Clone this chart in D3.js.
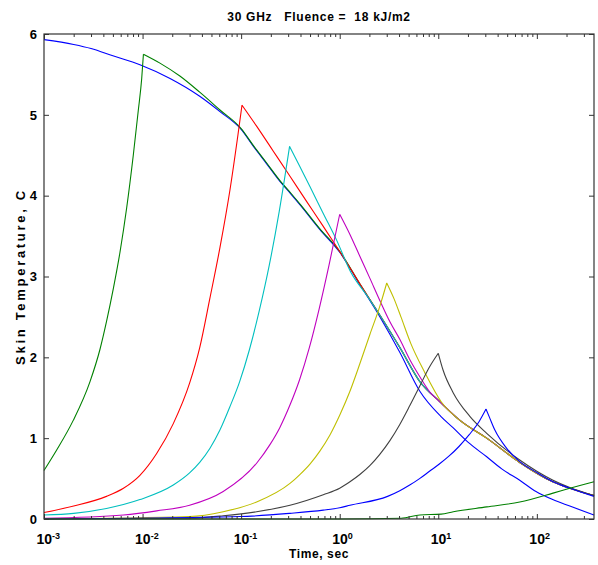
<!DOCTYPE html>
<html>
<head>
<meta charset="utf-8">
<script src="https://cdn.jsdelivr.net/npm/d3@7"></script>
<style>
  body { margin: 0; background: #fff; }
  svg text { font-family: "Liberation Sans", Arial, sans-serif; font-weight: bold; fill: #000; }
</style>
</head>
<body>
<svg width="598" height="565"></svg>
<script>
// skin temperature rise (C) vs time (s), one series per pulse length
const seriesNames = ['instant', '0.01 s', '0.1 s', '0.3 s', '1 s', '3 s', '10 s', '30 s', '300 s'];

const instantPulse = [[0.001,5.93],[0.002,5.87],[0.003,5.82],[0.005,5.73],[0.0094,5.62],[0.019,5.45],[0.038,5.23],[0.061,5.04],[0.1,4.82],[0.135,4.60],[0.18,4.40],[0.25,4.17],[0.32,4.02],[0.4,3.88],[0.63,3.58],[1.0,3.30],[1.6,2.90],[2.56,2.50],[4.08,2.06],[6.5,1.58],[10.6,1.27],[14.1,1.13],[20,0.95],[31,0.77],[44,0.62],[67,0.48],[98,0.34],[145,0.24],[216,0.16],[380,0.05]];
const pulse001 = [[0.001,0.60],[0.00134,0.85],[0.00198,1.22],[0.00293,1.70],[0.0037,2.10],[0.00432,2.45],[0.00505,2.85],[0.0059,3.30],[0.0069,3.85],[0.00805,4.50],[0.00904,5.05],[0.0098,5.45],[0.0102,5.75],[0.015,5.64],[0.0239,5.48],[0.038,5.28],[0.061,5.06],[0.1,4.83],[0.135,4.61],[0.18,4.41],[0.25,4.18],[0.32,4.03],[0.4,3.89],[0.63,3.59],[1.0,3.31],[1.6,2.91],[2.56,2.52],[4.08,2.12],[6.5,1.70],[10.4,1.45],[16.6,1.22],[31,1.00],[67,0.70],[145,0.46],[216,0.38],[380,0.29]];
const pulse01 = [[0.001,0.08],[0.002,0.16],[0.0043,0.28],[0.0064,0.38],[0.0094,0.54],[0.0139,0.81],[0.0205,1.18],[0.03,1.68],[0.038,2.12],[0.048,2.72],[0.061,3.36],[0.077,4.07],[0.093,4.76],[0.102,5.12],[0.1435,4.86],[0.212,4.55],[0.313,4.24],[0.461,3.93],[0.681,3.62],[0.83,3.46],[1.0,3.31],[1.6,2.91],[2.56,2.52],[4.08,2.12],[6.5,1.70],[10.4,1.45],[16.6,1.22],[31,1.00],[67,0.70],[145,0.46],[216,0.38],[380,0.29]];
const pulse03 = [[0.001,0.05],[0.002,0.07],[0.0043,0.13],[0.0094,0.24],[0.0205,0.42],[0.03,0.57],[0.038,0.70],[0.0483,0.875],[0.0609,1.10],[0.0767,1.385],[0.0966,1.70],[0.1217,2.10],[0.153,2.58],[0.193,3.14],[0.243,3.80],[0.31,4.61],[0.394,4.36],[0.5,4.11],[0.681,3.78],[0.93,3.45],[1.3,3.05],[1.9,2.76],[2.56,2.52],[4.08,2.12],[6.5,1.70],[10.4,1.45],[16.6,1.22],[31,1.00],[67,0.70],[145,0.46],[216,0.38],[380,0.29]];
const pulse1 = [[0.001,0.01],[0.0064,0.05],[0.0139,0.10],[0.03,0.17],[0.0658,0.34],[0.1435,0.69],[0.196,0.92],[0.2466,1.13],[0.3104,1.40],[0.3908,1.72],[0.492,2.12],[0.619,2.60],[0.779,3.14],[1.0,3.77],[1.27,3.52],[1.6,3.25],[2.02,2.98],[2.56,2.70],[3.23,2.44],[4.08,2.22],[5.15,1.97],[6.5,1.76],[8.22,1.57],[10.4,1.45],[16.6,1.22],[31,1.00],[67,0.70],[145,0.46],[216,0.38],[380,0.29]];
const pulse3 = [[0.001,0.0],[0.03,0.03],[0.0658,0.09],[0.1435,0.21],[0.313,0.44],[0.394,0.55],[0.499,0.68],[0.629,0.84],[0.796,1.04],[1.005,1.29],[1.27,1.58],[1.6,1.92],[2.02,2.28],[2.55,2.63],[3.0,2.92],[3.57,2.72],[4.18,2.50],[5.27,2.17],[7.24,1.82],[10.7,1.45],[16.6,1.22],[31,1.00],[67,0.70],[145,0.46],[216,0.38],[380,0.29]];
const pulse10 = [[0.001,0.0],[0.03,0.01],[0.0658,0.04],[0.1435,0.09],[0.313,0.17],[0.681,0.30],[1.0,0.38],[1.27,0.46],[1.6,0.55],[2.02,0.66],[2.55,0.80],[3.23,0.97],[4.07,1.17],[5.13,1.40],[6.46,1.64],[8.14,1.88],[10,2.05],[11.2,1.84],[14.2,1.56],[20.9,1.27],[31,1.06],[67,0.73],[146,0.48],[216,0.39],[380,0.29]];
const pulse30 = [[0.001,0.0],[0.0973,0.03],[0.313,0.07],[0.681,0.11],[1.0,0.14],[1.27,0.17],[3.06,0.28],[4.07,0.35],[5.13,0.42],[6.46,0.50],[8.14,0.59],[10.25,0.68],[12.9,0.78],[16.3,0.90],[20.5,1.04],[25.8,1.20],[30.5,1.36],[33,1.26],[37.5,1.10],[49,0.88],[67,0.71],[98,0.58],[146,0.46],[216,0.38],[380,0.28]];
const pulse300 = [[0.001,0.0],[1.0,0.0],[4.2,0.01],[6.5,0.05],[10.7,0.06],[14.2,0.09],[31,0.15],[67,0.21],[146,0.32],[216,0.38],[380,0.46]];

const xTicks = [1e-3, 1e-2, 1e-1, 1, 10, 100];
const xMinorTicks = [2e-3,3e-3,4e-3,5e-3,6e-3,7e-3,8e-3,9e-3,2e-2,3e-2,4e-2,5e-2,6e-2,7e-2,8e-2,9e-2,0.2,0.3,0.4,0.5,0.6,0.7,0.8,0.9,2,3,4,5,6,7,8,9,20,30,40,50,60,70,80,90,200,300];
const yTicks = [0, 1, 2, 3, 4, 5, 6];

const chartTitle = '30 GHz   Fluence =  18 kJ/m2';
const xAxisLabel = 'Time, sec';
const yAxisLabel = 'Skin Temperature, C';

// matlab default colour order
const colors = ['#0000ff', '#008000', '#ff0000', '#00bfbf', '#bf00bf', '#bfbf00', '#404040', '#0000ff', '#008000'];

const svg = d3.select('svg');
const width = +svg.attr('width');
const height = +svg.attr('height');

const render = series => {
    const margin = { top: 34, right: 4, bottom: 46, left: 44 };
    const innerWidth = width - margin.left - margin.right;
    const innerHeight = height - margin.top - margin.bottom;

    const xScale = d3.scaleLog()
        .domain([1e-3, 380])
        .range([0, innerWidth]);

    const yScale = d3.scaleLinear()
        .domain([0, 6])
        .range([innerHeight, 0]);

    const g = svg.append('g')
        .attr('transform', `translate(${margin.left}, ${margin.top})`);

    // curves, in plot order; rise and fall drawn separately so the peak stays sharp
    const line = d3.line()
        .x(d => xScale(d[0]))
        .y(d => yScale(d[1]))
        .curve(d3.curveMonotoneX);

    const pathFor = d => {
        const p = d3.maxIndex(d, v => v[1]);
        const rise = d.slice(0, p + 1);
        const fall = d.slice(p);
        return (rise.length > 1 ? line(rise) : '') + (fall.length > 1 ? line(fall) : '');
    };

    g.append('g').selectAll('path')
        .data(series)
        .join('path')
        .attr('d', pathFor)
        .attr('stroke', (d, i) => colors[i])
        .attr('stroke-width', 1.1)
        .attr('stroke-linejoin', 'miter')
        .attr('fill', 'none');

    // box
    g.append('rect')
        .attr('width', innerWidth)
        .attr('height', innerHeight)
        .attr('fill', 'none')
        .attr('stroke', '#333')
        .attr('stroke-width', 1.2);

    const styleAxis = sel => {
        sel.select('.domain').remove();
        sel.selectAll('line').attr('stroke', '#333');
    };

    // x axis, bottom + top
    const xAxisG = g.append('g')
        .attr('transform', `translate(0, ${innerHeight})`)
        .call(d3.axisBottom(xScale).tickValues(xTicks).tickSize(-5).tickSizeOuter(0).tickPadding(15));
    styleAxis(xAxisG);
    xAxisG.selectAll('text')
        .attr('font-size', 14)
        .attr('text-anchor', 'start')
        .attr('x', -8)
        .each(function(d) {
            const t = d3.select(this);
            t.text('10');
            t.append('tspan')
                .attr('dy', '-0.55em')
                .attr('font-size', 9)
                .text(Math.round(Math.log10(d)));
        });

    g.append('g')
        .attr('transform', `translate(0, ${innerHeight})`)
        .call(d3.axisBottom(xScale).tickValues(xMinorTicks).tickSize(-3).tickSizeOuter(0).tickFormat(''))
        .call(styleAxis);

    g.append('g')
        .call(d3.axisTop(xScale).tickValues(xTicks).tickSize(-5).tickSizeOuter(0).tickFormat(''))
        .call(styleAxis);
    g.append('g')
        .call(d3.axisTop(xScale).tickValues(xMinorTicks).tickSize(-3).tickSizeOuter(0).tickFormat(''))
        .call(styleAxis);

    // y axis, left + right
    const yAxisG = g.append('g')
        .call(d3.axisLeft(yScale).tickValues(yTicks).tickSize(-5).tickSizeOuter(0).tickPadding(7).tickFormat(d3.format('d')));
    styleAxis(yAxisG);
    yAxisG.selectAll('text').attr('font-size', 13);

    g.append('g')
        .attr('transform', `translate(${innerWidth}, 0)`)
        .call(d3.axisRight(yScale).tickValues(yTicks).tickSize(-5).tickSizeOuter(0).tickFormat(''))
        .call(styleAxis);

    // labels
    svg.append('text')
        .attr('x', margin.left + innerWidth / 2)
        .attr('y', 21)
        .attr('text-anchor', 'middle')
        .attr('font-size', 12)
        .attr('letter-spacing', 0.7)
        .style('white-space', 'pre')
        .text(chartTitle);

    svg.append('text')
        .attr('x', margin.left + innerWidth / 2)
        .attr('y', 558)
        .attr('text-anchor', 'middle')
        .attr('font-size', 12)
        .attr('letter-spacing', 0.6)
        .text(xAxisLabel);

    svg.append('text')
        .attr('transform', `translate(25, ${margin.top + innerHeight / 2}) rotate(-90)`)
        .attr('text-anchor', 'middle')
        .attr('font-size', 13)
        .attr('letter-spacing', 2.7)
        .text(yAxisLabel);
};

render([instantPulse, pulse001, pulse01, pulse03, pulse1, pulse3, pulse10, pulse30, pulse300]);
</script>
</body>
</html>
